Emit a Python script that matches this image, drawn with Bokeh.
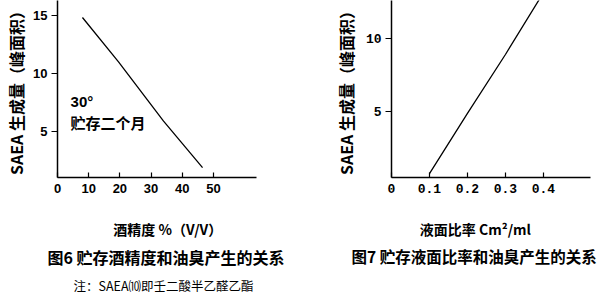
from bokeh.plotting import figure
from bokeh.layouts import row
from bokeh.models import Range1d, FixedTicker, Title
from bokeh.core.properties import value
from bokeh.embed import file_html
from bokeh.resources import INLINE

# Figure 6 data: alcohol content (% V/V) vs SAEA amount (peak area)
alc_x = [8, 19.5, 34, 46.5]
alc_y = [14.8, 11.0, 5.9, 1.9]
alc_xticks = [0, 10, 20, 30, 40, 50]
alc_yticks = [5, 10, 15]

# Figure 7 data: liquid surface ratio (cm2/ml) vs SAEA amount
ratio_x = [0.1, 0.2, 0.3, 0.4]
ratio_y = [0.8, 4.9, 8.9, 13.1]
ratio_xticks = [0, 0.1, 0.2, 0.3, 0.4]
ratio_yticks = [5, 10]

CJK = "Noto Sans CJK SC"


def style(p, mono):
    p.outline_line_color = None
    p.grid.visible = False
    p.background_fill_color = "white"
    p.border_fill_color = "white"
    for ax in (p.xaxis[0], p.yaxis[0]):
        ax.axis_line_color = "black"
        ax.axis_line_width = 1.5
        ax.major_tick_line_color = "black"
        ax.major_tick_line_width = 1.2
        ax.minor_tick_line_color = None
        ax.major_label_text_color = "black"
        ax.major_label_text_font = "Liberation Mono" if mono else "Liberation Sans"
        ax.major_label_text_font_style = "bold"
        ax.major_label_text_font_size = "13px"
        ax.axis_label_text_color = "black"
        ax.axis_label_text_font = CJK
        ax.axis_label_text_font_style = "bold"
    p.xaxis.major_tick_in = 5
    p.xaxis.major_tick_out = 0
    p.xaxis.major_label_standoff = 6
    p.yaxis.major_tick_in = 0
    p.yaxis.major_tick_out = 6
    p.yaxis.major_label_standoff = 4
    p.xaxis.axis_label_text_font_size = "14px"
    p.yaxis.axis_label_text_font_size = "16px"
    p.xaxis.axis_label_standoff = 23
    p.yaxis.axis_label_standoff = 5


def caption(p, text, size, standoff, offset, bold=True):
    p.add_layout(Title(text=text, align="left", standoff=standoff, offset=offset,
                       text_font=CJK, text_font_size=size,
                       text_font_style="bold" if bold else "normal",
                       text_color="black"), "below")


# ---- Figure 6 ----
p1 = figure(width=300, height=298, output_backend="svg", toolbar_location=None,
            x_range=Range1d(0, 63.8), y_range=Range1d(1.05, 16.26),
            min_border_left=57, min_border_right=44, min_border_top=0,
            min_border_bottom=117)
p1.line(alc_x, alc_y, line_color="black", line_width=1.3)
p1.xaxis.ticker = FixedTicker(ticks=alc_xticks)
p1.yaxis.ticker = FixedTicker(ticks=alc_yticks)
p1.xaxis.axis_label = "\u3000\u3000酒精度   %（V/V）"
p1.yaxis.axis_label = "SAEA 生成量（峰面积）"
style(p1, mono=False)
p1.yaxis.axis_label_standoff = 2
p1.text(x=[4.2], y=[7.6], text=["30°"], text_font=value("Liberation Sans"),
        text_font_size="15px", text_font_style="bold", text_baseline="middle",
        text_color="black")
p1.text(x=[4.2], y=[5.76], text=["贮存二个月"], text_font=value(CJK),
        text_font_size="15px", text_font_style="bold", text_baseline="middle",
        text_color="black")
caption(p1, "图6   贮存酒精度和油臭产生的关系", "16px", 3, -10)
caption(p1, "注：SAEA⑽即壬二酸半乙醛乙酯", "12.5px", 7, 16, bold=False)

# ---- Figure 7 ----
p2 = figure(width=303, height=298, output_backend="svg", toolbar_location=None,
            x_range=Range1d(0, 0.524), y_range=Range1d(0.54, 12.57),
            min_border_left=91, min_border_right=13, min_border_top=0,
            min_border_bottom=120)
p2.line(ratio_x, ratio_y, line_color="black", line_width=1.3)
p2.xaxis.ticker = FixedTicker(ticks=ratio_xticks)
p2.xaxis.major_label_overrides = {0: "0"}
p2.yaxis.ticker = FixedTicker(ticks=ratio_yticks)
p2.xaxis.axis_label = "液面比率  Cm²/ml\u3000\u3000"
p2.yaxis.axis_label = "SAEA 生成量（峰面积）"
style(p2, mono=True)
caption(p2, "图7 贮存液面比率和油臭产生的关系", "15.5px", 3, -40)
caption(p2, " ", "12.5px", 7, 0, bold=False)

layout = row(p1, p2)
open("out.html", "w").write(file_html(layout, INLINE))
